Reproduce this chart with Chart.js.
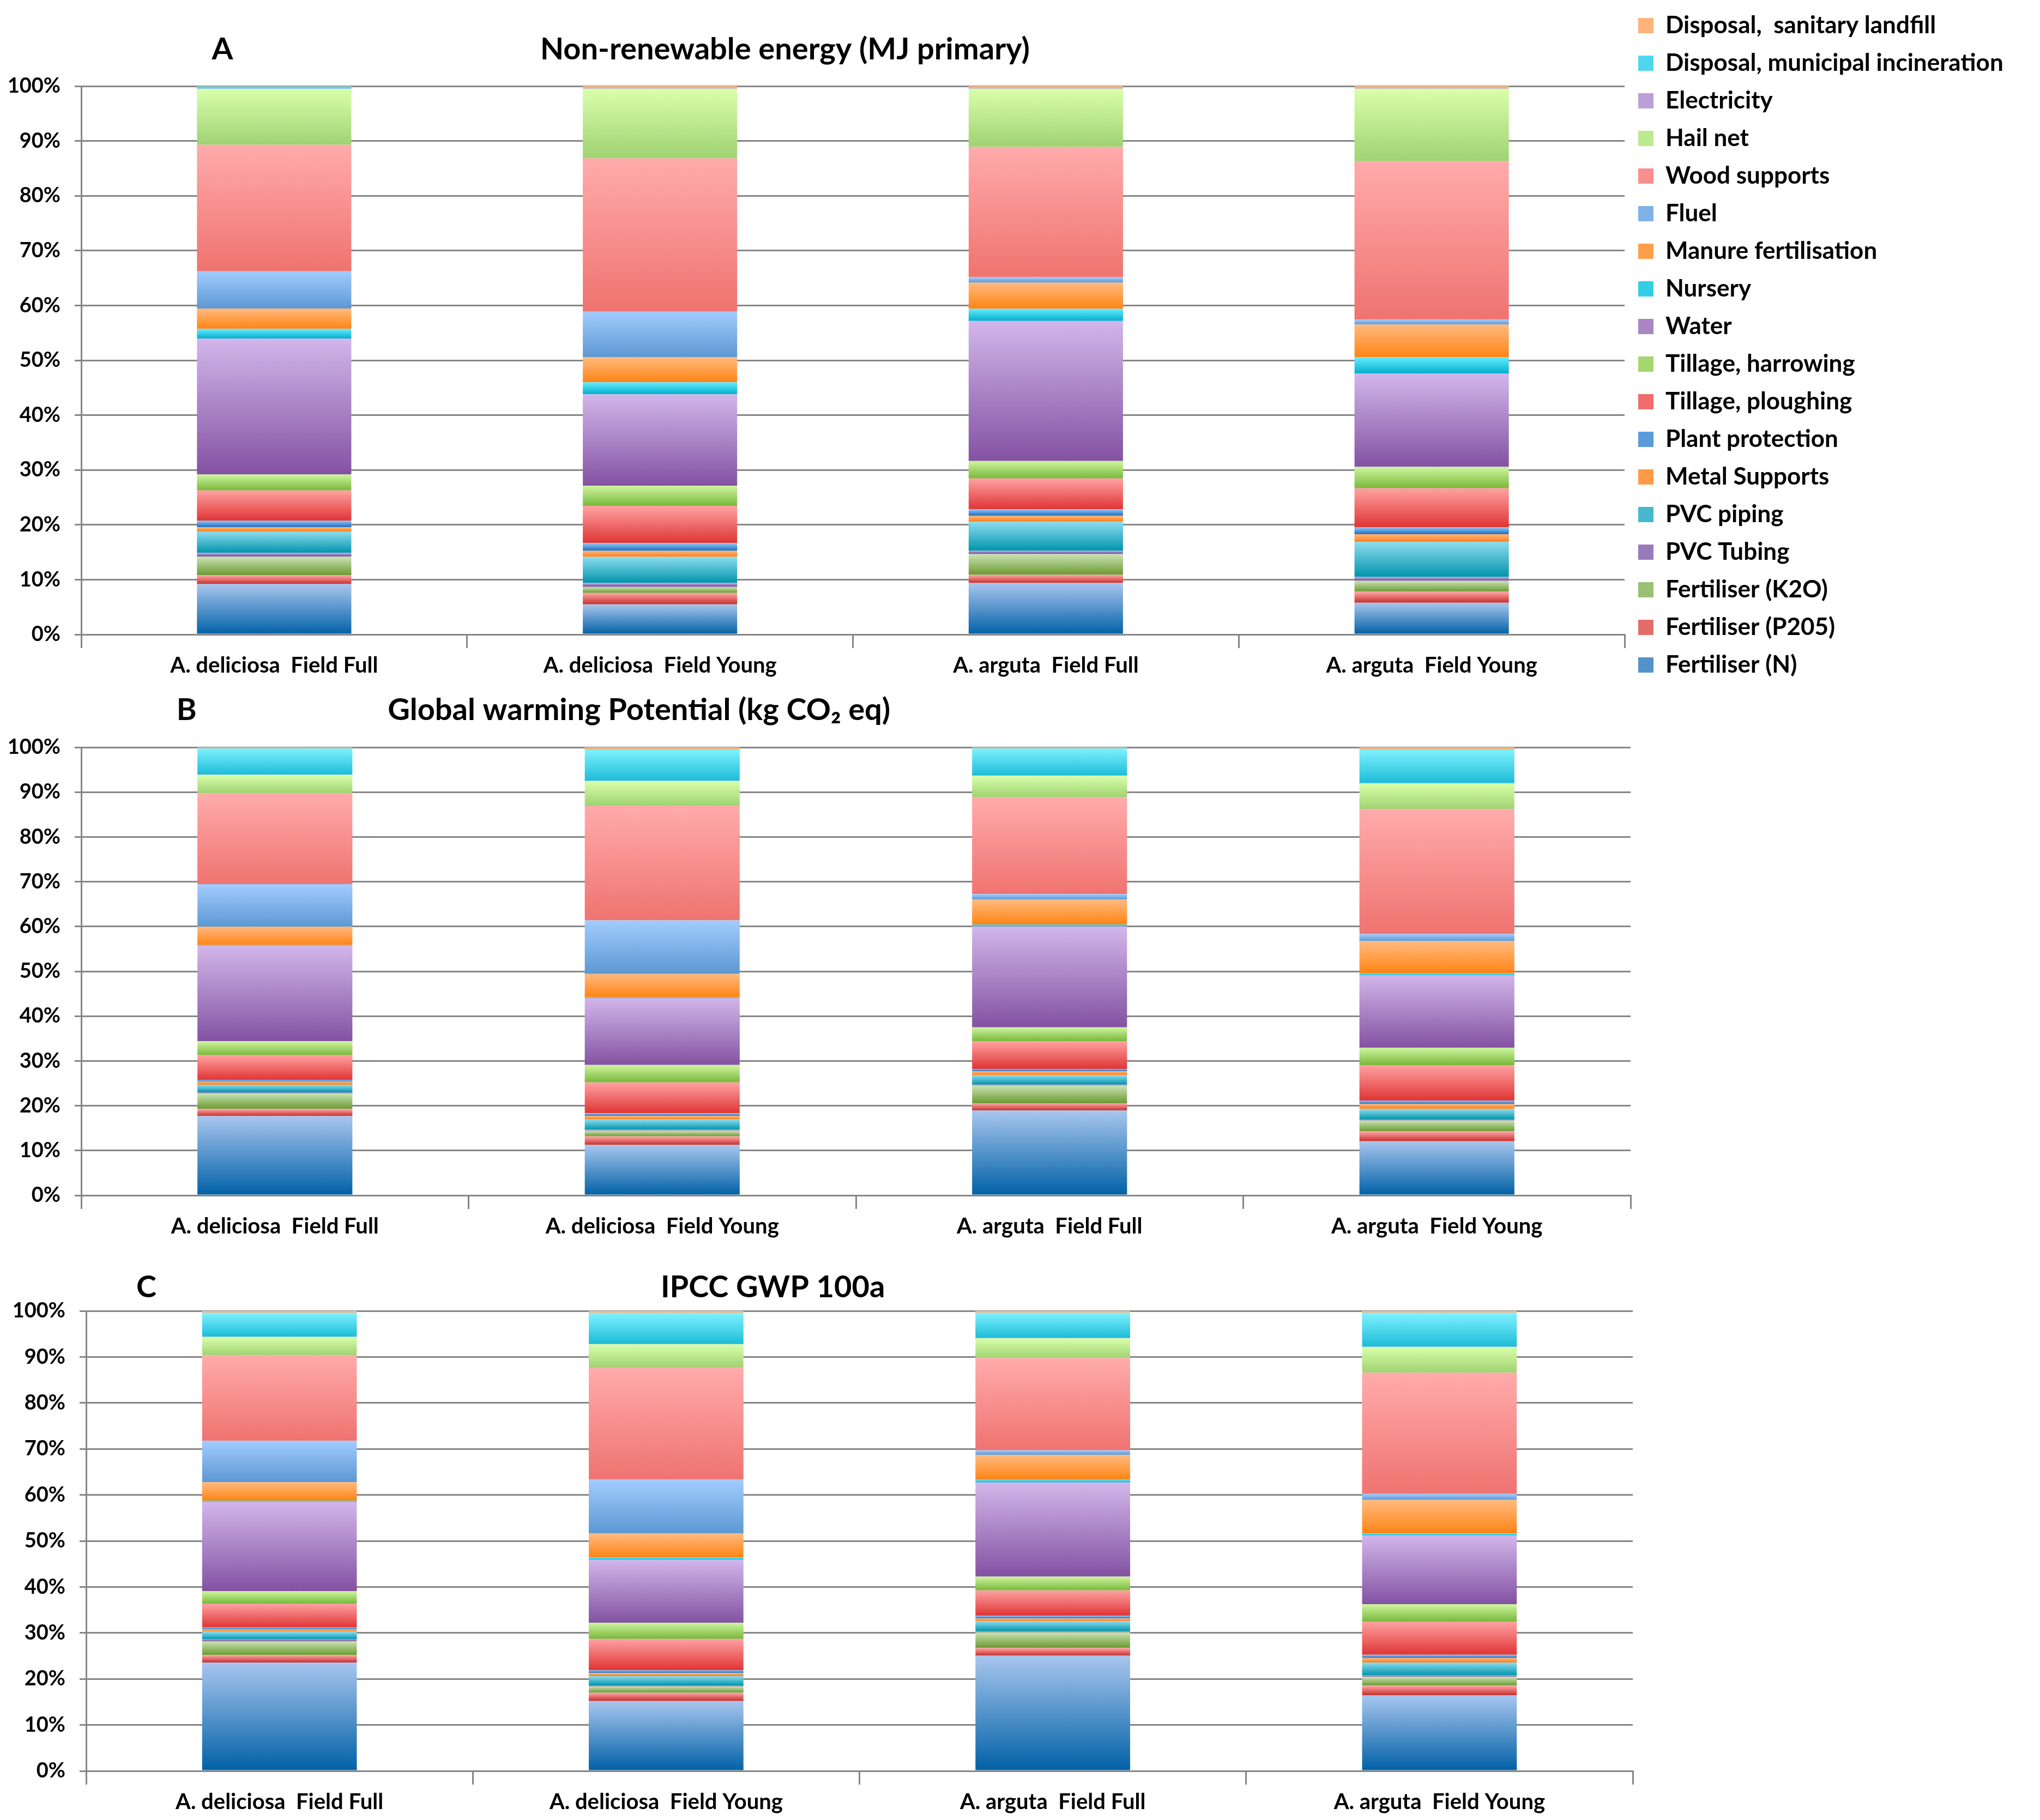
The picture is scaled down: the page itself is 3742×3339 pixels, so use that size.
<!DOCTYPE html>
<html>
<head>
<meta charset="utf-8">
<script src="https://cdn.jsdelivr.net/npm/chart.js@4.4.1/dist/chart.umd.min.js"></script>
<style>
  html, body { margin: 0; padding: 0; background: #fff; }
  body { width: 3742px; height: 3339px; position: relative; overflow: hidden; }
  .panel { position: absolute; left: 0; width: 3742px; }
  .panel canvas { display: block; }
</style>
</head>
<body>
<div class="panel" style="top:0;height:1300px"><canvas id="chartA" width="3742" height="1300"></canvas></div>
<div class="panel" style="top:1263px;height:1030px"><canvas id="chartB" width="3742" height="1030"></canvas></div>
<div class="panel" style="top:2288px;height:1051px"><canvas id="chartC" width="3742" height="1051"></canvas></div>
<script>
// categories (bars) and contribution sources (stack order, bottom -> top)
const categories = ['A. deliciosa  Field Full', 'A. deliciosa  Field Young', 'A. arguta  Field Full', 'A. arguta  Field Young'];
const sources = ['Fertiliser (N)', 'Fertiliser (P205)', 'Fertiliser (K2O)', 'PVC Tubing', 'PVC piping',
  'Metal Supports', 'Plant protection', 'Tillage, ploughing', 'Tillage, harrowing', 'Water', 'Nursery',
  'Manure fertilisation', 'Fluel', 'Wood supports', 'Hail net', 'Electricity',
  'Disposal, municipal incineration', 'Disposal,  sanitary landfill'];
const yTicks = [0, 10, 20, 30, 40, 50, 60, 70, 80, 90, 100];

// A - Non-renewable energy, share in % per source (same order as sources)
const nreDelFull   = [9.2, 1.6, 3.4, 0.7, 3.9, 0.8, 1.2, 5.5, 2.9, 24.8, 1.8, 3.7, 6.8, 23.1, 10.2, 0.05, 0.4, 0.05];
const nreDelYoung  = [5.5, 2.1, 1.1, 0.7, 4.8, 1.1, 1.4, 6.8, 3.7, 16.7, 2.2, 4.6, 8.3, 28.0, 12.7, 0.05, 0.05, 0.4];
const nreArgFull   = [9.4, 1.5, 3.8, 0.6, 5.3, 1.1, 1.2, 5.6, 3.2, 25.6, 2.2, 4.8, 1.0, 23.8, 10.6, 0.05, 0.05, 0.4];
const nreArgYoung  = [5.8, 2.0, 2.0, 0.7, 6.4, 1.4, 1.3, 7.1, 3.9, 17.0, 3.0, 6.0, 0.9, 28.9, 13.2, 0.05, 0.05, 0.4];

// B - Global warming potential
const gwpDelFull   = [17.7, 1.6, 3.5, 0.2, 1.7, 0.7, 0.4, 5.5, 3.1, 21.3, 0.2, 4.1, 9.5, 20.3, 4.1, 0.05, 5.9, 0.2];
const gwpDelYoung  = [11.3, 1.9, 1.3, 0.2, 2.3, 0.8, 0.6, 6.9, 3.9, 15.0, 0.2, 5.2, 12.0, 25.7, 5.5, 0.05, 7.0, 0.5];
const gwpArgFull   = [19.0, 1.6, 4.0, 0.2, 2.1, 0.9, 0.5, 6.2, 3.1, 22.6, 0.4, 5.6, 1.2, 21.7, 4.8, 0.05, 6.1, 0.2];
const gwpArgYoung  = [12.1, 2.2, 2.4, 0.2, 2.4, 1.1, 0.8, 7.9, 3.9, 16.2, 0.3, 7.3, 1.6, 27.9, 5.7, 0.1, 7.5, 0.5];

// C - IPCC GWP 100a
const ipccDelFull  = [23.6, 1.6, 3.0, 0.4, 1.7, 0.5, 0.4, 5.2, 2.7, 19.4, 0.3, 4.0, 9.0, 18.6, 4.0, 0.05, 5.2, 0.4];
const ipccDelYoung = [15.2, 1.8, 1.4, 0.2, 2.0, 0.7, 0.6, 6.8, 3.5, 13.7, 0.5, 5.2, 11.7, 24.3, 5.1, 0.05, 6.8, 0.4];
const ipccArgFull  = [25.1, 1.7, 3.4, 0.2, 2.2, 0.6, 0.6, 5.5, 3.0, 20.5, 0.6, 5.4, 1.0, 20.1, 4.3, 0.05, 5.5, 0.4];
const ipccArgYoung = [16.5, 2.1, 1.9, 0.3, 2.8, 1.0, 0.7, 7.2, 3.8, 15.0, 0.4, 7.3, 1.3, 26.4, 5.6, 0.05, 7.4, 0.4];

// gradient colours per source: [top, bottom]
const shades = [
  ['#a8c6ee', '#0060a6'], ['#ffa8a8', '#c62f2d'], ['#cbe3b4', '#6b9a32'], ['#c4acde', '#6c4a98'],
  ['#8edcee', '#0094ac'], ['#ffb67a', '#ff7f16'], ['#98c8f4', '#1c6ec4'], ['#ffa2a2', '#e03434'],
  ['#cff5a0', '#78b83a'], ['#d2b6ea', '#8352a2'], ['#66ecff', '#00aecc'], ['#ffba80', '#ff8414'],
  ['#a2ccff', '#5c98d2'], ['#ffabab', '#ef7370'], ['#d9ffab', '#a0d272'], ['#d4bcec', '#a283c4'],
  ['#80f2ff', '#1cbcd8'], ['#ffc496', '#ffa060']
];

const FONT = 'Lato, "Open Sans", sans-serif';
const gridGrey = '#868686';

function mix(a, b) {
  const pa = parseInt(a.slice(1), 16), pb = parseInt(b.slice(1), 16);
  const ch = s => Math.round((((pa >> s) & 255) + ((pb >> s) & 255)) / 2);
  return 'rgb(' + ch(16) + ',' + ch(8) + ',' + ch(0) + ')';
}

// vertical gradient over one stacked segment, light at the top
function segmentFill(ctx, colors) {
  const chart = ctx.chart;
  if (ctx.type !== 'data' || !chart.chartArea || !chart.scales.y) return colors[1];
  const ds = chart.data.datasets;
  let start = 0;
  for (let k = 0; k < ctx.datasetIndex; k++) start += ds[k].data[ctx.dataIndex];
  const end = start + ds[ctx.datasetIndex].data[ctx.dataIndex];
  const yTop = chart.scales.y.getPixelForValue(end);
  const yBot = chart.scales.y.getPixelForValue(start);
  if (!isFinite(yTop) || !isFinite(yBot) || yBot - yTop < 0.5) return colors[1];
  const g = chart.ctx.createLinearGradient(0, yTop, 0, yBot);
  g.addColorStop(0, colors[0]);
  g.addColorStop(1, colors[1]);
  return g;
}

function buildDatasets(bars) {
  const totals = bars.map(b => b.reduce((a, v) => a + v, 0));
  return sources.map((name, j) => ({
    label: name,
    data: bars.map((b, i) => b[j] / totals[i] * 100),
    backgroundColor: ctx => segmentFill(ctx, shades[j]),
    borderWidth: 0,
    barPercentage: 0.4,
    categoryPercentage: 1
  }));
}

// heading strip above the plot: panel letter + title
const headingPlugin = {
  id: 'heading',
  beforeInit(chart, args, opts) {
    const box = {
      position: 'top', fullSize: false, weight: 5, options: {},
      left: 0, top: 0, right: 0, bottom: 0, width: 0, height: 0,
      isHorizontal() { return true; },
      update(maxWidth) { this.width = maxWidth; this.height = opts.height; },
      draw() {
        const c = chart.ctx, area = chart.chartArea;
        const y = this.bottom - opts.gap;
        c.save();
        c.fillStyle = '#000';
        c.textAlign = 'center';
        c.textBaseline = 'middle';
        c.font = 'bold 56px ' + FONT;
        c.fillText(opts.letter, area.left + opts.letterAt * area.width, y);
        c.fillText(opts.text, area.left + opts.textAt * area.width, y);
        c.restore();
      }
    };
    Chart.layouts.addBox(chart, box);
  }
};

function makeChart(id, bars, heading, dims, showLegend) {
  return new Chart(document.getElementById(id), {
    type: 'bar',
    data: { labels: categories, datasets: buildDatasets(bars) },
    plugins: [headingPlugin],
    options: {
      responsive: false,
      devicePixelRatio: 1,
      animation: false,
      layout: { padding: { left: 0, top: 0, bottom: 0, right: dims.right } },
      plugins: {
        heading: heading,
        tooltip: { enabled: false },
        legend: {
          display: showLegend,
          position: 'right',
          align: 'start',
          reverse: true,
          maxWidth: 700,
          labels: {
            boxWidth: 28,
            boxHeight: 28,
            padding: 25,
            color: '#000',
            font: { family: FONT, size: 44, weight: 'bold' },
            generateLabels(chart) {
              return chart.data.datasets.map((d, i) => ({
                text: d.label,
                fillStyle: mix(shades[i][0], shades[i][1]),
                strokeStyle: 'rgba(0,0,0,0)',
                lineWidth: 0,
                hidden: false,
                datasetIndex: i
              }));
            }
          }
        }
      },
      scales: {
        x: {
          stacked: true,
          afterFit(scale) { scale.height = dims.xHeight; },
          grid: { display: true, offset: true, drawOnChartArea: false, drawTicks: true, tickLength: 25, color: gridGrey, lineWidth: 3 },
          border: { display: true, color: gridGrey, width: 3 },
          ticks: { color: '#000', padding: 8, maxRotation: 0, font: { family: FONT, size: 40, weight: 'bold' } }
        },
        y: {
          stacked: true,
          min: 0,
          max: 100,
          afterFit(scale) { scale.width = dims.yWidth; },
          afterBuildTicks(scale) { scale.ticks = yTicks.map(v => ({ value: v })); },
          grid: { color: gridGrey, lineWidth: 3, drawTicks: true, tickLength: 12 },
          border: { display: true, color: gridGrey, width: 3 },
          ticks: {
            color: '#000', padding: 26,
            font: { family: FONT, size: 38, weight: 'bold' },
            callback: v => v + '%'
          }
        }
      }
    }
  });
}

makeChart('chartA', [nreDelFull, nreDelYoung, nreArgFull, nreArgYoung],
  { letter: 'A', text: 'Non-renewable energy (MJ primary)', letterAt: 0.0915, textAt: 0.456, height: 158, gap: 67 },
  { right: 62, xHeight: 136, yWidth: 149 }, true);

makeChart('chartB', [gwpDelFull, gwpDelYoung, gwpArgFull, gwpArgYoung],
  { letter: 'B', text: 'Global warming Potential (kg CO\u2082 eq)', letterAt: 0.068, textAt: 0.36, height: 108, gap: 68 },
  { right: 751, xHeight: 100, yWidth: 149 }, false);

makeChart('chartC', [ipccDelFull, ipccDelYoung, ipccArgFull, ipccArgYoung],
  { letter: 'C', text: 'IPCC GWP 100a', letterAt: 0.039, textAt: 0.444, height: 117, gap: 43 },
  { right: 747, xHeight: 90, yWidth: 158 }, false);
</script>
</body>
</html>
